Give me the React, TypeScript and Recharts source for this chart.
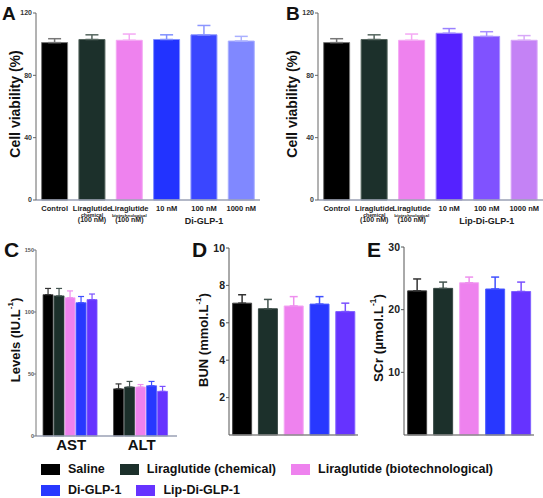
import React from 'react';
import { BarChart, Bar, XAxis, YAxis, ErrorBar, Cell } from 'recharts';

const FONT = '"Liberation Sans", Arial, Helvetica, sans-serif';

// A & B: cell viability
const viabilityCategories = ['Control', 'Liraglutide chemical', 'Liraglutide biotechnological', '10 nM', '100 nM', '1000 nM'];
const viabilityTickLines = [
  ['Control'],
  ['Liraglutide', 'chemical', '(100 nM)'],
  ['Liraglutide', 'biotechnological', '(100 nM)'],
  ['10 nM'],
  ['100 nM'],
  ['1000 nM'],
];
const viabilityTicks = [0, 40, 80, 120];
const diGlpMean = [101, 103, 102.5, 103, 106, 102];
const diGlpSem = [2.5, 3, 4, 3, 6, 3];
const lipDiGlpMean = [101, 103, 102.5, 107, 105, 102.5];
const lipDiGlpSem = [2.5, 3, 4, 3, 3, 3];

const colorsA = ['#000000', '#1c302b', '#ee82ee', '#2233ff', '#3a46ff', '#8088ff'];
const errColorsA = ['#777777', '#55665f', '#f4a8f4', '#8090ff', '#8c96ff', '#aab0ff'];
const colorsB = ['#000000', '#1c302b', '#ee82ee', '#5522ff', '#8052ff', '#c482f5'];
const errColorsB = ['#777777', '#55665f', '#f4a8f4', '#9a80ff', '#a890ff', '#d8a8f8'];

// C, D, E: serum markers
const groups = ['Saline', 'Liraglutide (chemical)', 'Liraglutide (biotechnological)', 'Di-GLP-1', 'Lip-Di-GLP-1'];
const groupColors = ['#000000', '#1c302b', '#ee82ee', '#2838ff', '#6633ff'];
const groupEdge = ['#444444', '#3a4a46', '#f4a8f4', '#5060ff', '#8060ff'];
const groupErr = ['#333333', '#445550', '#ee90ee', '#4050ff', '#7a50ff'];

const liverTests = ['AST', 'ALT'];
const astMean = [114, 113, 111.5, 107.5, 110];
const astSem = [5, 6, 5.5, 5, 4.5];
const altMean = [38, 39.5, 39.5, 40.5, 36];
const altSem = [4, 4.5, 2, 3.5, 4];
const liverTicks = [0, 50, 100, 150];

const bunMean = [7.05, 6.75, 6.9, 7.0, 6.6];
const bunSem = [0.45, 0.5, 0.5, 0.4, 0.45];
const bunTicks = [0, 2, 4, 6, 8, 10];

const scrMean = [23, 23.4, 24.3, 23.3, 22.9];
const scrSem = [1.9, 1.0, 0.9, 1.9, 1.5];
const scrTicks = [0, 10, 20, 30];

const makeViabilityTick = (group: string) => (props: any) => {
  const { x, y, payload } = props;
  const i = viabilityCategories.indexOf(payload.value);
  const lines = viabilityTickLines[i] || [];
  const common = { x, textAnchor: 'middle' as const, fontWeight: 'bold', fill: '#222', fontFamily: FONT };
  return (
    <g>
      <text {...common} y={y + 10.5} fontSize={7.5}>{lines[0]}</text>
      {lines[1] && <text {...common} y={y + 16.5} fontSize={lines[1].length > 10 ? 4.4 : 5.2}>{lines[1]}</text>}
      {lines[2] && <text {...common} y={y + 22} fontSize={7}>{lines[2]}</text>}
      {i === 4 && <text {...common} y={y + 23.5} fontSize={9}>{group}</text>}
    </g>
  );
};

function ViabilityChart({ mean, sem, colors, errColors, group, width, yWidth, right }: any) {
  const data = viabilityCategories.map((name, i) => ({ name, value: mean[i], err: [0, sem[i]] }));
  return (
    <BarChart width={width} height={232} data={data} margin={{ top: 13, right, left: 0, bottom: 0 }} barCategoryGap="15%">
      <XAxis dataKey="name" interval={0} tickSize={0} tickMargin={0} height={32} tickLine={false}
        stroke="#9aa0b4" strokeWidth={1.5} tick={makeViabilityTick(group)} />
      <YAxis width={yWidth} domain={[0, 120]} ticks={viabilityTicks} tickSize={3} tickMargin={1}
        stroke="#666" tick={{ fontSize: 7, fontWeight: 'bold', fill: '#333', fontFamily: FONT }} />
      <Bar dataKey="value" isAnimationActive={false}>
        {data.map((d, i) => (
          <Cell key={d.name} fill={colors[i]} stroke={errColors[i]} strokeWidth={1} />
        ))}
        {data.map((d, i) => (
          <ErrorBar key={d.name} dataKey={(row: any) => (row.name === d.name ? row.err : null)}
            width={6.5} stroke={errColors[i]} strokeWidth={1.5} />
        ))}
      </Bar>
    </BarChart>
  );
}

function LiverChart() {
  const means = [astMean, altMean];
  const sems = [astSem, altSem];
  const data = liverTests.map((name, ti) => {
    const row: any = { name };
    groups.forEach((_, gi) => {
      row[`v${gi}`] = means[ti][gi];
      row[`e${gi}`] = [0, sems[ti][gi]];
    });
    return row;
  });
  return (
    <BarChart width={185} height={235} data={data} margin={{ top: 30, right: 8, left: 0, bottom: 0 }}
      barCategoryGap="10%" barGap={1}>
      <XAxis dataKey="name" tickSize={0} tickMargin={3} height={19} tickLine={false} stroke="#9aa0b4" strokeWidth={1.5}
        tick={{ fontSize: 15, fontWeight: 'bold', fill: '#111', fontFamily: FONT }} />
      <YAxis width={36} domain={[0, 150]} ticks={liverTicks} tickSize={2} tickMargin={0} stroke="#777"
        tick={{ fontSize: 5.5, fontWeight: 'bold', fill: '#555', fontFamily: FONT }} />
      {groups.map((g, gi) => (
        <Bar key={g} dataKey={`v${gi}`} name={g} fill={groupColors[gi]} stroke={groupEdge[gi]} strokeWidth={0.8}
          isAnimationActive={false}>
          <ErrorBar dataKey={`e${gi}`} width={3} stroke={groupErr[gi]} strokeWidth={1.2} />
        </Bar>
      ))}
    </BarChart>
  );
}

function GroupChart({ mean, sem, ticks, max, width, yWidth, top, right }: any) {
  const data = groups.map((name, i) => ({ name, value: mean[i], err: [0, sem[i]] }));
  return (
    <BarChart width={width} height={220} data={data} margin={{ top, right, left: 0, bottom: 4 }} barCategoryGap="14%">
      <XAxis dataKey="name" tick={false} tickLine={false} height={1} stroke="#888" strokeWidth={1.5} />
      <YAxis width={yWidth} domain={[0, max]} ticks={ticks} tickSize={3} tickMargin={1} stroke="#555"
        tick={{ fontSize: 10.5, fontWeight: 'bold', fill: '#222', fontFamily: FONT }} />
      <Bar dataKey="value" isAnimationActive={false}>
        {data.map((d, i) => (
          <Cell key={d.name} fill={groupColors[i]} stroke={groupEdge[i]} strokeWidth={1} />
        ))}
        {data.map((d, i) => (
          <ErrorBar key={d.name} dataKey={(row: any) => (row.name === d.name ? row.err : null)}
            width={4} stroke={groupErr[i]} strokeWidth={1.5} />
        ))}
      </Bar>
    </BarChart>
  );
}

function YTitle({ cx, cy, size, text, sup, tail }: any) {
  return (
    <text transform={`translate(${cx},${cy}) rotate(-90)`} textAnchor="middle" dominantBaseline="central"
      fontSize={size} fontWeight="bold" fill="#111" fontFamily={FONT}>
      {text}
      {sup && <tspan dy={-5} fontSize={size * 0.62}>{sup}</tspan>}
      {tail && <tspan dy={sup ? 5 : 0}>{tail}</tspan>}
    </text>
  );
}

const abs = (left: number, top: number): React.CSSProperties => ({ position: 'absolute', left, top });

export default function App() {
  const letter = { fontWeight: 'bold', fill: '#111', fontFamily: FONT } as const;
  return (
    <div style={{ position: 'absolute', left: 0, top: 0, width: 543, height: 498, background: '#fff', fontFamily: FONT }}>
      <div style={abs(0, 0)}>
        <ViabilityChart mean={diGlpMean} sem={diGlpSem} colors={colorsA} errColors={errColorsA}
          group="Di-GLP-1" width={270} yWidth={36} right={10} />
      </div>
      <div style={abs(270, 0)}>
        <ViabilityChart mean={lipDiGlpMean} sem={lipDiGlpSem} colors={colorsB} errColors={errColorsB}
          group="Lip-Di-GLP-1" width={273} yWidth={48} right={0} />
      </div>
      <div style={abs(0, 220)}>
        <LiverChart />
      </div>
      <div style={abs(180, 220)}>
        <GroupChart mean={bunMean} sem={bunSem} ticks={bunTicks} max={10} width={185} yWidth={49} top={28} right={7} />
      </div>
      <div style={abs(360, 220)}>
        <GroupChart mean={scrMean} sem={scrSem} ticks={scrTicks} max={30} width={183} yWidth={44} top={27} right={9} />
      </div>

      <svg width={543} height={498} style={{ position: 'absolute', left: 0, top: 0, pointerEvents: 'none' }}>
        <text x={2} y={20} fontSize={19} {...letter}>A</text>
        <text x={286} y={20} fontSize={19} {...letter}>B</text>
        <text x={4} y={257} fontSize={21} {...letter}>C</text>
        <text x={192} y={257} fontSize={21} {...letter}>D</text>
        <text x={367} y={257} fontSize={21} {...letter}>E</text>
        <YTitle cx={15} cy={104} size={14} text="Cell viability (%)" />
        <YTitle cx={292} cy={104} size={14} text="Cell viability (%)" />
        <YTitle cx={15} cy={340} size={13} text="Levels (IU.L" sup="-1" tail=")" />
        <YTitle cx={203} cy={340} size={13} text="BUN (mmol.L" sup="-1" tail=")" />
        <YTitle cx={378} cy={338} size={13.5} text="SCr (µmol.L" sup="-1" tail=")" />
      </svg>

      {[groups.slice(0, 3), groups.slice(3)].map((row, r) => (
        <div key={r} style={{ position: 'absolute', left: 41, top: 458.5 + r * 21, height: 21, display: 'flex', alignItems: 'center',
          fontSize: 12.5, fontWeight: 'bold', color: '#111', whiteSpace: 'nowrap' }}>
          {row.map((g) => {
            const gi = groups.indexOf(g);
            return (
              <div key={g} style={{ display: 'flex', alignItems: 'center', marginRight: 15 }}>
                <div style={{ width: 19, height: 11, background: groupColors[gi], marginRight: 8 }} />
                <span>{g}</span>
              </div>
            );
          })}
        </div>
      ))}
    </div>
  );
}
